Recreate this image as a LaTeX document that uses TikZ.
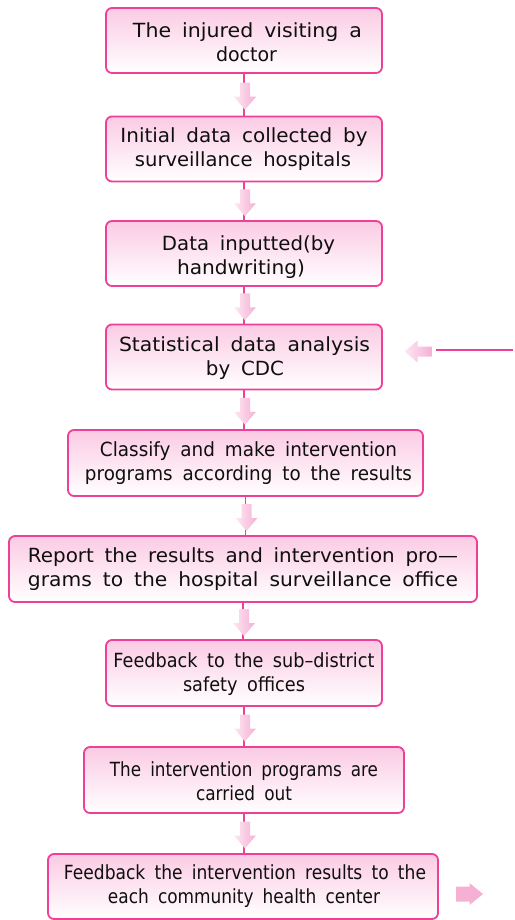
\documentclass[tikz,border=0pt]{standalone}
\usepackage{fontspec}
\usepackage{graphicx}
\setmainfont{DejaVu Sans}[WordSpace=1.7]
\usetikzlibrary{calc}
\definecolor{bordpink}{RGB}{238,64,150}
\definecolor{boxtop}{RGB}{251,203,228}
\definecolor{arrlight}{RGB}{253,232,242}
\definecolor{arrdark}{RGB}{246,176,212}
\definecolor{txt}{RGB}{15,15,15}
\newlength\fltmp
% #1 shift of the line centre, #2 printed width, #3 text
\newcommand\fl[3]{\ifdim #1pt<0pt
    \resizebox{#2pt}{\height}{#3}\hspace*{-#1pt}\hspace*{-#1pt}%
  \else
    \hspace*{#1pt}\hspace*{#1pt}\resizebox{#2pt}{\height}{#3}%
  \fi}
% #1 = how far the first baseline sits above the box centre
\newcommand\bt[7]{%
  \setlength\fltmp{28.5pt}\addtolength\fltmp{-#1pt}\addtolength\fltmp{-#1pt}%
  \rule[-4.5pt]{0pt}{\fltmp}\fl{#6}{#2}{#3}\\
  \rule[-4.5pt]{0pt}{1pt}\fl{#7}{#4}{#5}}
\tikzset{
  box/.style={draw=bordpink, line width=1.8pt, rounded corners=6pt,
    top color=boxtop, middle color=white, bottom color=white,
    minimum height=65pt, inner sep=0pt, align=center, text=txt,
    font=\fontsize{19.5pt}{24pt}\selectfont},
  conn/.style={draw=bordpink, line width=1.6pt},
  fatarrow/.pic={
    \shade[left color=arrlight, right color=arrdark]
      (-13.5,-5) -- (0.5,-5) -- (0.5,-11) -- (13.5,0) -- (0.5,11) -- (0.5,5) -- (-13.5,5) -- cycle;
  },
  dblarrow/.pic={
    \shade[top color=arrdark, middle color=white, bottom color=arrdark]
      (-13.5,-7.5) -- (0,-7.5) -- (0,-11) -- (13.5,0) -- (0,11) -- (0,7.5) -- (-13.5,7.5) -- cycle;
  }
}
\begin{document}
\begin{tikzpicture}[x=1pt,y=-1pt]
\useasboundingbox (0,0) rectangle (514,920);
\node[box, minimum width=276pt] (b1) at (244,40.5)
  {\bt{1.2}{229}{The injured visiting a}{61}{doctor}{3.5}{2.5}};
\node[box, minimum width=276pt] (b2) at (244,149)
  {\bt{4.7}{247}{Initial data collected by}{216}{surveillance hospitals}{0}{-1}};
\node[box, minimum width=276pt] (b3) at (244,253.5)
  {\bt{0.8}{173}{Data inputted(by}{128}{handwriting)}{4.5}{-3}};
\node[box, minimum width=276pt] (b4) at (244,357)
  {\bt{3}{251}{Statistical data analysis}{78}{by CDC}{0.5}{1}};
\node[box, minimum width=355pt, minimum height=66pt] (b5) at (245.5,463)
  {\bt{6.3}{297}{Classify and make intervention}{327}{programs according to the results}{3}{3}};
\node[box, minimum width=468pt, minimum height=66pt] (b6) at (243,569)
  {\bt{4.7}{430}{Report the results and intervention pro—}{430}{grams to the hospital surveillance office}{0}{0}};
\node[box, minimum width=276pt, minimum height=66pt] (b7) at (244,673)
  {\bt{3}{261}{Feedback to the sub–district}{122}{safety offices}{0}{0}};
\node[box, minimum width=320pt, minimum height=66pt] (b8) at (244,780)
  {\bt{1.7}{268}{The intervention programs are}{96}{carried out}{0}{0}};
\node[box, minimum width=390pt] (b9) at (243,886.5)
  {\bt{5.5}{362}{Feedback the intervention results to the}{272}{each community health center}{2}{1}};

\foreach \a/\b in {b1/b2,b2/b3,b3/b4,b4/b5,b5/b6,b6/b7,b7/b8,b8/b9}{
  \draw[conn] (\a.south) -- (\a.south |- \b.north);
  \path ($(\a.south)!0.5!(\a.south |- \b.north)$) ++(1,1.5) pic[rotate=-90] {fatarrow};
}

\coordinate (fa) at (436,350);
\coordinate (fb) at (513,350);
\draw[conn] (fa) -- (fb);
\path (418,351.5) pic[rotate=180] {fatarrow};
\path (469.5,894) pic {dblarrow};
\end{tikzpicture}
\end{document}
